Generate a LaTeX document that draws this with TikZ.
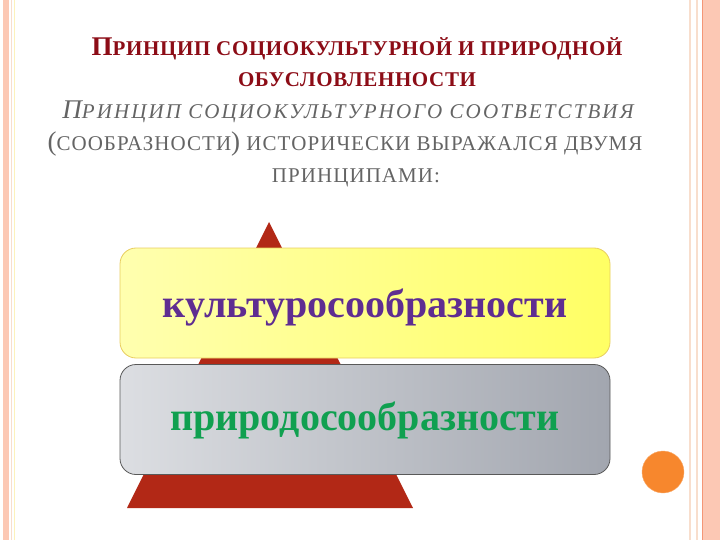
\documentclass[tikz,border=0pt]{standalone}
\usepackage{fontspec}
\setmainfont{Liberation Serif}
\newfontfamily\titlefont[LetterSpace=3]{Liberation Serif}
\newfontfamily\bodyfont[LetterSpace=5,ItalicFeatures={LetterSpace=10}]{Liberation Serif}
\usepackage{tikz}

\definecolor{titlered}{RGB}{140,12,22}
\definecolor{bodygrey}{RGB}{100,100,100}
\definecolor{pyrred}{RGB}{178,40,22}
\definecolor{kultpurple}{RGB}{95,45,145}
\definecolor{prirgreen}{RGB}{16,160,80}
\definecolor{salmon}{RGB}{252,200,180}
\definecolor{paleline}{RGB}{248,222,205}
\definecolor{orangeline}{RGB}{244,150,118}
\definecolor{dotorange}{RGB}{247,135,45}
\definecolor{yellowleft}{RGB}{255,255,175}
\definecolor{yellowright}{RGB}{255,255,100}
\definecolor{yellowedge}{RGB}{232,205,95}
\definecolor{greyleft}{RGB}{220,222,226}
\definecolor{greyright}{RGB}{162,166,175}

\newcommand{\bigsc}{\fontsize{27}{30}\selectfont}
\newcommand{\smsc}{\fontsize{21}{24}\selectfont}

\begin{document}
\begin{tikzpicture}[x=1pt,y=-1pt,
  titleline/.style={anchor=base,text=titlered,font=\titlefont\bfseries},
  bodyline/.style={anchor=base,text=bodygrey,font=\bodyfont},
  wordbox/.style={rounded corners=16pt,minimum width=490pt,minimum height=110pt,line width=0.8pt},
  word/.style={font=\fontsize{40}{44}\selectfont\bfseries,anchor=base}]
\useasboundingbox (0,0) rectangle (720,540);
% page border
\fill[salmon] (3,0) rectangle (9,540);
\draw[paleline,line width=1.2pt] (11.5,0) -- (11.5,540);
\draw[yellowleft!60!paleline,line width=1pt] (14.5,0) -- (14.5,540);
\draw[paleline,line width=1.5pt] (690,0) -- (690,540);
\draw[paleline,line width=1.5pt] (697,0) -- (697,540);
\fill[salmon] (703,0) rectangle (720,540);
\draw[orangeline,line width=1pt] (702.5,0) -- (702.5,540);
\node[circle,fill=dotorange,draw=dotorange!70!white,minimum size=42pt] (dot) at (663,472) {};

% heading
\node[titleline] (t1) at (357,56) {\bigsc П\smsc РИНЦИП СОЦИОКУЛЬТУРНОЙ И ПРИРОДНОЙ};
\node[titleline] (t2) at (357,87) {\smsc ОБУСЛОВЛЕННОСТИ};
\node[bodyline] (b1) at (348,119) {\itshape\bigsc П\smsc РИНЦИП СОЦИОКУЛЬТУРНОГО СООТВЕТСТВИЯ};
\node[bodyline] (b2) at (345,151) {\bigsc (\smsc СООБРАЗНОСТИ\bigsc )\smsc{} ИСТОРИЧЕСКИ ВЫРАЖАЛСЯ ДВУМЯ};
\node[bodyline] (b3) at (356,183) {\smsc ПРИНЦИПАМИ:};

% pyramid
\fill[pyrred] (269,222) -- (413,508) -- (127,508) -- cycle;

% two principles
\node[wordbox,draw=yellowedge,left color=yellowleft,right color=yellowright] (kult) at (365,303) {};
\node[wordbox,draw=black!65,left color=greyleft,right color=greyright] (prir) at (365,419.5) {};
\node[word,text=kultpurple,yshift=-14pt] (kultw) at (kult.center) {культуросообразности};
\node[word,text=prirgreen,yshift=-11pt] (prirw) at (prir.center) {природосообразности};
\end{tikzpicture}
\end{document}
